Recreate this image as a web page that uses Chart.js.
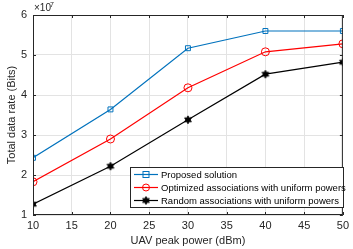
<!DOCTYPE html>
<html>
<head>
<meta charset="utf-8">
<script src="https://cdn.jsdelivr.net/npm/chart.js@4"></script>
<style>
html,body{margin:0;padding:0;background:#fff;}
#wrap{width:353px;height:249px;position:relative;}
</style>
</head>
<body>
<div id="wrap"><canvas id="c" width="353" height="249"></canvas></div>
<script>
// data (values x 1e7)
const power = [10, 20, 30, 40, 50];
const proposed = [2.43, 3.64, 5.17, 5.60, 5.60];
const optimized = [1.83, 2.90, 4.18, 5.08, 5.28];
const randomAssoc = [1.27, 2.22, 3.38, 4.52, 4.82];
const names = ['Proposed solution', 'Optimized associations with uniform powers', 'Random associations with uniform powers'];
const xTicks = [10, 15, 20, 25, 30, 35, 40, 45, 50];
const yTicks = [1, 2, 3, 4, 5, 6];

const font = 'Liberation Sans, Arial, Helvetica, sans-serif';

function hexStar(r){
  let cv = document.createElement('canvas');
  cv.width = cv.height = r*2+2;
  let g = cv.getContext('2d');
  g.translate(r+1, r+1);
  g.beginPath();
  for(let i=0;i<12;i++){
    let a = -Math.PI/2 + i*Math.PI/6;
    let rr = i%2===0 ? r : r*0.55;
    g.lineTo(rr*Math.cos(a), rr*Math.sin(a));
  }
  g.closePath();
  g.fillStyle = '#000'; g.fill();
  g.strokeStyle = '#000'; g.lineWidth = 0.8; g.stroke();
  return cv;
}
const star = hexStar(4);

function pts(ys){ return power.map((x,i)=>({x:x, y:ys[i]})); }

const sets = [
  {label:names[0], data:pts(proposed), borderColor:'#0072BD', pointStyle:'rect', pointRadius:3.5, pointBorderColor:'#0072BD', pointBackgroundColor:'rgba(0,0,0,0)', pointBorderWidth:1},
  {label:names[1], data:pts(optimized), borderColor:'#FF0000', pointStyle:'circle', pointRadius:4, pointBorderColor:'#FF0000', pointBackgroundColor:'rgba(0,0,0,0)', pointBorderWidth:1},
  {label:names[2], data:pts(randomAssoc), borderColor:'#000000', pointStyle:star, pointRadius:4, pointBorderColor:'#000', pointBackgroundColor:'#000', pointBorderWidth:1}
];
sets.forEach(s=>{ s.borderWidth=1.2; s.tension=0; s.fill=false; });

const frame = {
  id:'frame',
  afterDraw(chart){
    const {ctx, chartArea:a} = chart;
    const xs = chart.scales.x, ys = chart.scales.y;
    ctx.save();
    ctx.strokeStyle = '#262626'; ctx.lineWidth = 1;
    ctx.strokeRect(a.left+0.5, a.top+0.5, a.right-a.left-1, a.bottom-a.top-1);
    ctx.beginPath();
    xTicks.forEach(v=>{
      let px = Math.round(xs.getPixelForValue(v))+0.5;
      ctx.moveTo(px, a.bottom); ctx.lineTo(px, a.bottom-3);
      ctx.moveTo(px, a.top); ctx.lineTo(px, a.top+3);
    });
    yTicks.forEach(v=>{
      let py = Math.round(ys.getPixelForValue(v))+0.5;
      ctx.moveTo(a.left, py); ctx.lineTo(a.left+3, py);
      ctx.moveTo(a.right, py); ctx.lineTo(a.right-3, py);
    });
    ctx.stroke();

    // exponent
    ctx.fillStyle = '#262626';
    ctx.font = '10px ' + font;
    ctx.textBaseline = 'alphabetic'; ctx.textAlign = 'left';
    ctx.fillText('\u00d710', a.left+1, a.top-4);
    ctx.font = '7px ' + font;
    ctx.fillText('7', a.left+17, a.top-8);

    // axis titles
    ctx.font = '11px ' + font;
    ctx.textAlign = 'center'; ctx.textBaseline = 'middle';
    ctx.fillText('UAV peak power (dBm)', (a.left+a.right)/2, 241);
    ctx.save();
    ctx.translate(12, (a.top+a.bottom)/2);
    ctx.rotate(-Math.PI/2);
    ctx.fillText('Total data rate (Bits)', 0, 0);
    ctx.restore();

    // legend
    const lx = 130, ly = 167, lw = 213, lh = 40;
    ctx.fillStyle = '#fff';
    ctx.fillRect(lx, ly, lw, lh);
    ctx.strokeStyle = '#262626'; ctx.lineWidth = 1;
    ctx.strokeRect(lx+0.5, ly+0.5, lw, lh);
    ctx.font = '9.5px ' + font;
    ctx.textAlign = 'left';
    sets.forEach((s,i)=>{
      let y = ly + 7.5 + i*13;
      ctx.strokeStyle = s.borderColor; ctx.lineWidth = 1.2;
      ctx.beginPath(); ctx.moveTo(134, y); ctx.lineTo(158, y); ctx.stroke();
      ctx.lineWidth = 1;
      if(i===0){ ctx.strokeRect(143, y-3, 6, 6); }
      else if(i===1){ ctx.beginPath(); ctx.arc(146, y, 3.5, 0, Math.PI*2); ctx.stroke(); }
      else { ctx.drawImage(star, 146-star.width/2, y-star.height/2); }
      ctx.fillStyle = '#000';
      ctx.fillText(s.label, 161, y+0.5);
    });
    ctx.restore();
  }
};

new Chart(document.getElementById('c'), {
  type:'line',
  data:{datasets:sets},
  options:{
    responsive:false, animation:false,
    layout:{autoPadding:false, padding:{left:0, right:3.5, top:15, bottom:0}},
    plugins:{legend:{display:false}, tooltip:{enabled:false}},
    scales:{
      x:{type:'linear', min:10, max:50,
        afterBuildTicks(s){ s.ticks = xTicks.map(v=>({value:v})); },
        afterFit(s){ s.height = 34; },
        grid:{color:'#e3e3e3', drawTicks:false}, border:{display:false},
        ticks:{padding:4, color:'#262626', font:{family:font, size:11}, maxRotation:0, autoSkip:false}},
      y:{type:'linear', min:1, max:6,
        afterBuildTicks(s){ s.ticks = yTicks.map(v=>({value:v})); },
        afterFit(s){ s.width = 33; },
        grid:{color:'#e3e3e3', drawTicks:false}, border:{display:false},
        ticks:{padding:6, color:'#262626', font:{family:font, size:11}}}
    }
  },
  plugins:[frame]
});
</script>
</body>
</html>
